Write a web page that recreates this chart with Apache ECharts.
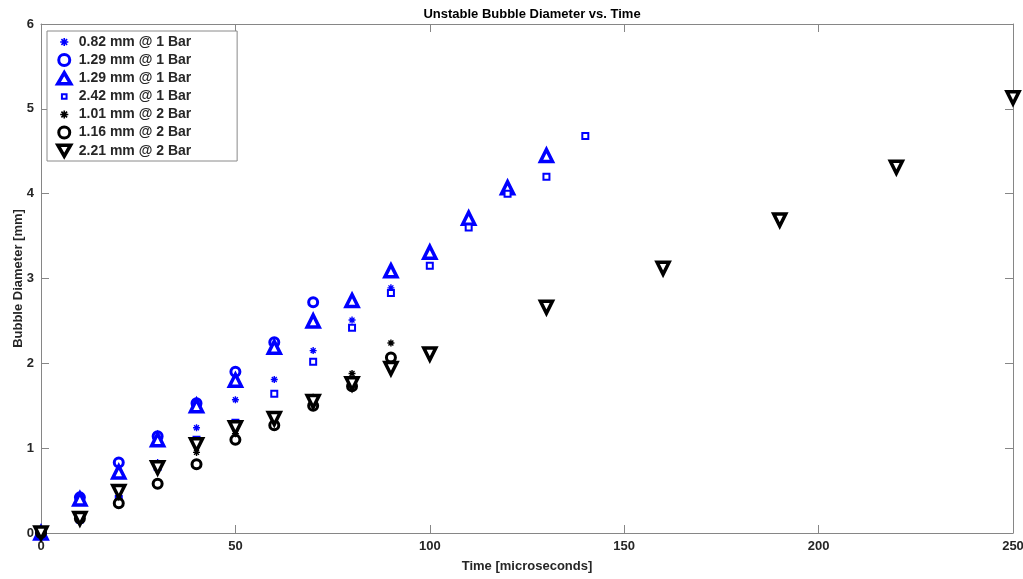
<!DOCTYPE html>
<html>
<head>
<meta charset="utf-8">
<script src="https://cdn.jsdelivr.net/npm/echarts@6/dist/echarts.min.js"></script>
<style>
html, body { margin: 0; padding: 0; background: #fff; }
#chart { width: 1023px; height: 579px; }
</style>
</head>
<body>
<div id="chart"></div>
<script>
// data: [time (us), diameter (mm)]
var s082_1bar = [[0,0],[10,0.40],[20,0.72],[30,0.83],[40,1.24],[50,1.57],[60,1.81],[70,2.15],[80,2.51],[90,2.89]];
var s129_1bar_o = [[0,0],[10,0.42],[20,0.83],[30,1.14],[40,1.53],[50,1.90],[60,2.25],[70,2.72]];
var s129_1bar_t = [[0,0],[10,0.40],[20,0.72],[30,1.10],[40,1.50],[50,1.80],[60,2.19],[70,2.50],[80,2.74],[90,3.09],[100,3.31],[110,3.71],[120,4.07],[130,4.45]];
var s242_1bar = [[0,0],[10,0.16],[20,0.40],[30,0.78],[40,1.10],[50,1.30],[60,1.64],[70,2.02],[80,2.42],[90,2.83],[100,3.15],[110,3.60],[120,4.00],[130,4.20],[140,4.68]];
var s101_2bar = [[0,0],[10,0.15],[20,0.40],[30,0.78],[40,0.95],[50,1.17],[60,1.32],[70,1.60],[80,1.88],[90,2.24]];
var s116_2bar = [[0,0],[10,0.17],[20,0.35],[30,0.58],[40,0.81],[50,1.10],[60,1.27],[70,1.50],[80,1.73],[90,2.07]];
var s221_2bar = [[0,0],[10,0.17],[20,0.49],[30,0.77],[40,1.04],[50,1.24],[60,1.35],[70,1.55],[80,1.76],[90,1.94],[100,2.11],[130,2.66],[160,3.12],[190,3.69],[220,4.31],[250,5.13]];

var names = ['0.82 mm @ 1 Bar','1.29 mm @ 1 Bar','1.29 mm @ 1 Bar ','2.42 mm @ 1 Bar','1.01 mm @ 2 Bar','1.16 mm @ 2 Bar','2.21 mm @ 2 Bar'];
var xTicks = [0, 50, 100, 150, 200, 250];
var yTicks = [0, 1, 2, 3, 4, 5, 6];

var BLUE = '#0000ff', BLACK = '#000000';
var asterisk = 'path://M-1,-5L1,-5L1,5L-1,5Z M-5,-1L5,-1L5,1L-5,1Z M-4.2,-2.8L-2.8,-4.2L4.2,2.8L2.8,4.2Z M2.8,-4.2L4.2,-2.8L-2.8,4.2L-4.2,2.8Z';
var downTri = 'path://M0,0L10,0L5,8.66Z';

// legend icons: same shapes, padded so they come out small inside the icon box
var legendIcons = [
    'path://M-8,-6M8,6M-1,-5L1,-5L1,5L-1,5Z M-5,-1L5,-1L5,1L-5,1Z M-4.2,-2.8L-2.8,-4.2L4.2,2.8L2.8,4.2Z M2.8,-4.2L4.2,-2.8L-2.8,4.2L-4.2,2.8Z',
    'circle',
    'triangle',
    'path://M-7,-5M7,5M-2.5,-2.5L2.5,-2.5L2.5,2.5L-2.5,2.5Z',
    'path://M-8,-6M8,6M-1,-5L1,-5L1,5L-1,5Z M-5,-1L5,-1L5,1L-5,1Z M-4.2,-2.8L-2.8,-4.2L4.2,2.8L2.8,4.2Z M2.8,-4.2L4.2,-2.8L-2.8,4.2L-4.2,2.8Z',
    'circle',
    downTri
];
var legendBorders = [0, 3, 3.5, 2, 0, 3, 3.5];

function mk(name, data, symbol, size, color, filled, bw) {
    return {
        name: name, type: 'scatter', data: data,
        symbol: symbol, symbolSize: size,
        clip: false,
        itemStyle: {
            color: filled ? color : '#ffffff',
            borderColor: color,
            borderWidth: bw,
            opacity: 1
        }
    };
}

var axisColor = '#868686';
var labelFont = { fontFamily: 'Liberation Sans, Arial, sans-serif', fontWeight: 'bold', fontSize: 13, color: '#262626' };

var legendData = [];
for (var i = 0; i < names.length; i++) {
    legendData.push({ name: names[i], icon: legendIcons[i], itemStyle: { borderWidth: legendBorders[i] } });
}

var myChart = echarts.init(document.getElementById('chart'));
option = {
    animation: false,
    backgroundColor: '#ffffff',
    title: {
        text: 'Unstable Bubble Diameter vs. Time',
        left: 527, top: 3, textAlign: 'center',
        textStyle: { fontFamily: 'Liberation Sans, Arial, sans-serif', fontWeight: 'bold', fontSize: 13, color: '#000' }
    },
    legend: {
        orient: 'vertical',
        left: 47, top: 31,
        padding: [4, 42, 3, 9],
        itemWidth: 13, itemHeight: 11, itemGap: 4,
        borderColor: '#8a8a8a', borderWidth: 1,
        backgroundColor: '#ffffff',
        textStyle: { fontFamily: 'Liberation Sans, Arial, sans-serif', fontWeight: 'bold', fontSize: 14, lineHeight: 14, color: '#262626', padding: [0, 0, 0, 3] },
        data: legendData
    },
    grid: { left: 41, right: 10, top: 24, bottom: 46, containLabel: false, outerBoundsMode: 'none' },
    xAxis: [
        {
            type: 'value', min: xTicks[0], max: xTicks[xTicks.length - 1], interval: 50,
            name: 'Time [microseconds]', nameLocation: 'middle', nameGap: 27, nameMoveOverlap: false,
            nameTextStyle: labelFont,
            axisLine: { show: true, lineStyle: { color: axisColor } },
            axisTick: { show: true, inside: true, length: 8, lineStyle: { color: axisColor } },
            axisLabel: Object.assign({ margin: 7 }, labelFont),
            splitLine: { show: false }
        },
        {
            type: 'value', position: 'top', min: 0, max: 250, interval: 50,
            axisLine: { show: true, onZero: false, lineStyle: { color: axisColor } },
            axisTick: { show: true, inside: true, length: 8, lineStyle: { color: axisColor } },
            axisLabel: { show: false }, splitLine: { show: false }
        }
    ],
    yAxis: [
        {
            type: 'value', min: yTicks[0], max: yTicks[yTicks.length - 1], interval: 1,
            name: 'Bubble Diameter [mm]', nameLocation: 'middle', nameGap: 16, nameMoveOverlap: false,
            nameTextStyle: labelFont,
            axisLine: { show: true, lineStyle: { color: axisColor } },
            axisTick: { show: true, inside: true, length: 8, lineStyle: { color: axisColor } },
            axisLabel: Object.assign({ margin: 7 }, labelFont),
            splitLine: { show: false }
        },
        {
            type: 'value', position: 'right', min: 0, max: 6, interval: 1,
            axisLine: { show: true, onZero: false, lineStyle: { color: axisColor } },
            axisTick: { show: true, inside: true, length: 8, lineStyle: { color: axisColor } },
            axisLabel: { show: false }, splitLine: { show: false }
        }
    ],
    series: [
        mk(names[0], s082_1bar, asterisk, 7, BLUE, true, 0),
        mk(names[1], s129_1bar_o, 'circle', 9, BLUE, false, 3),
        mk(names[2], s129_1bar_t, 'triangle', 12, BLUE, false, 3.5),
        mk(names[3], s242_1bar, 'rect', 6, BLUE, false, 2),
        mk(names[4], s101_2bar, asterisk, 7, BLACK, true, 0),
        mk(names[5], s116_2bar, 'circle', 9, BLACK, false, 3),
        mk(names[6], s221_2bar, downTri, 12, BLACK, false, 3.5)
    ]
};

myChart.setOption(option);
</script>
</body>
</html>
